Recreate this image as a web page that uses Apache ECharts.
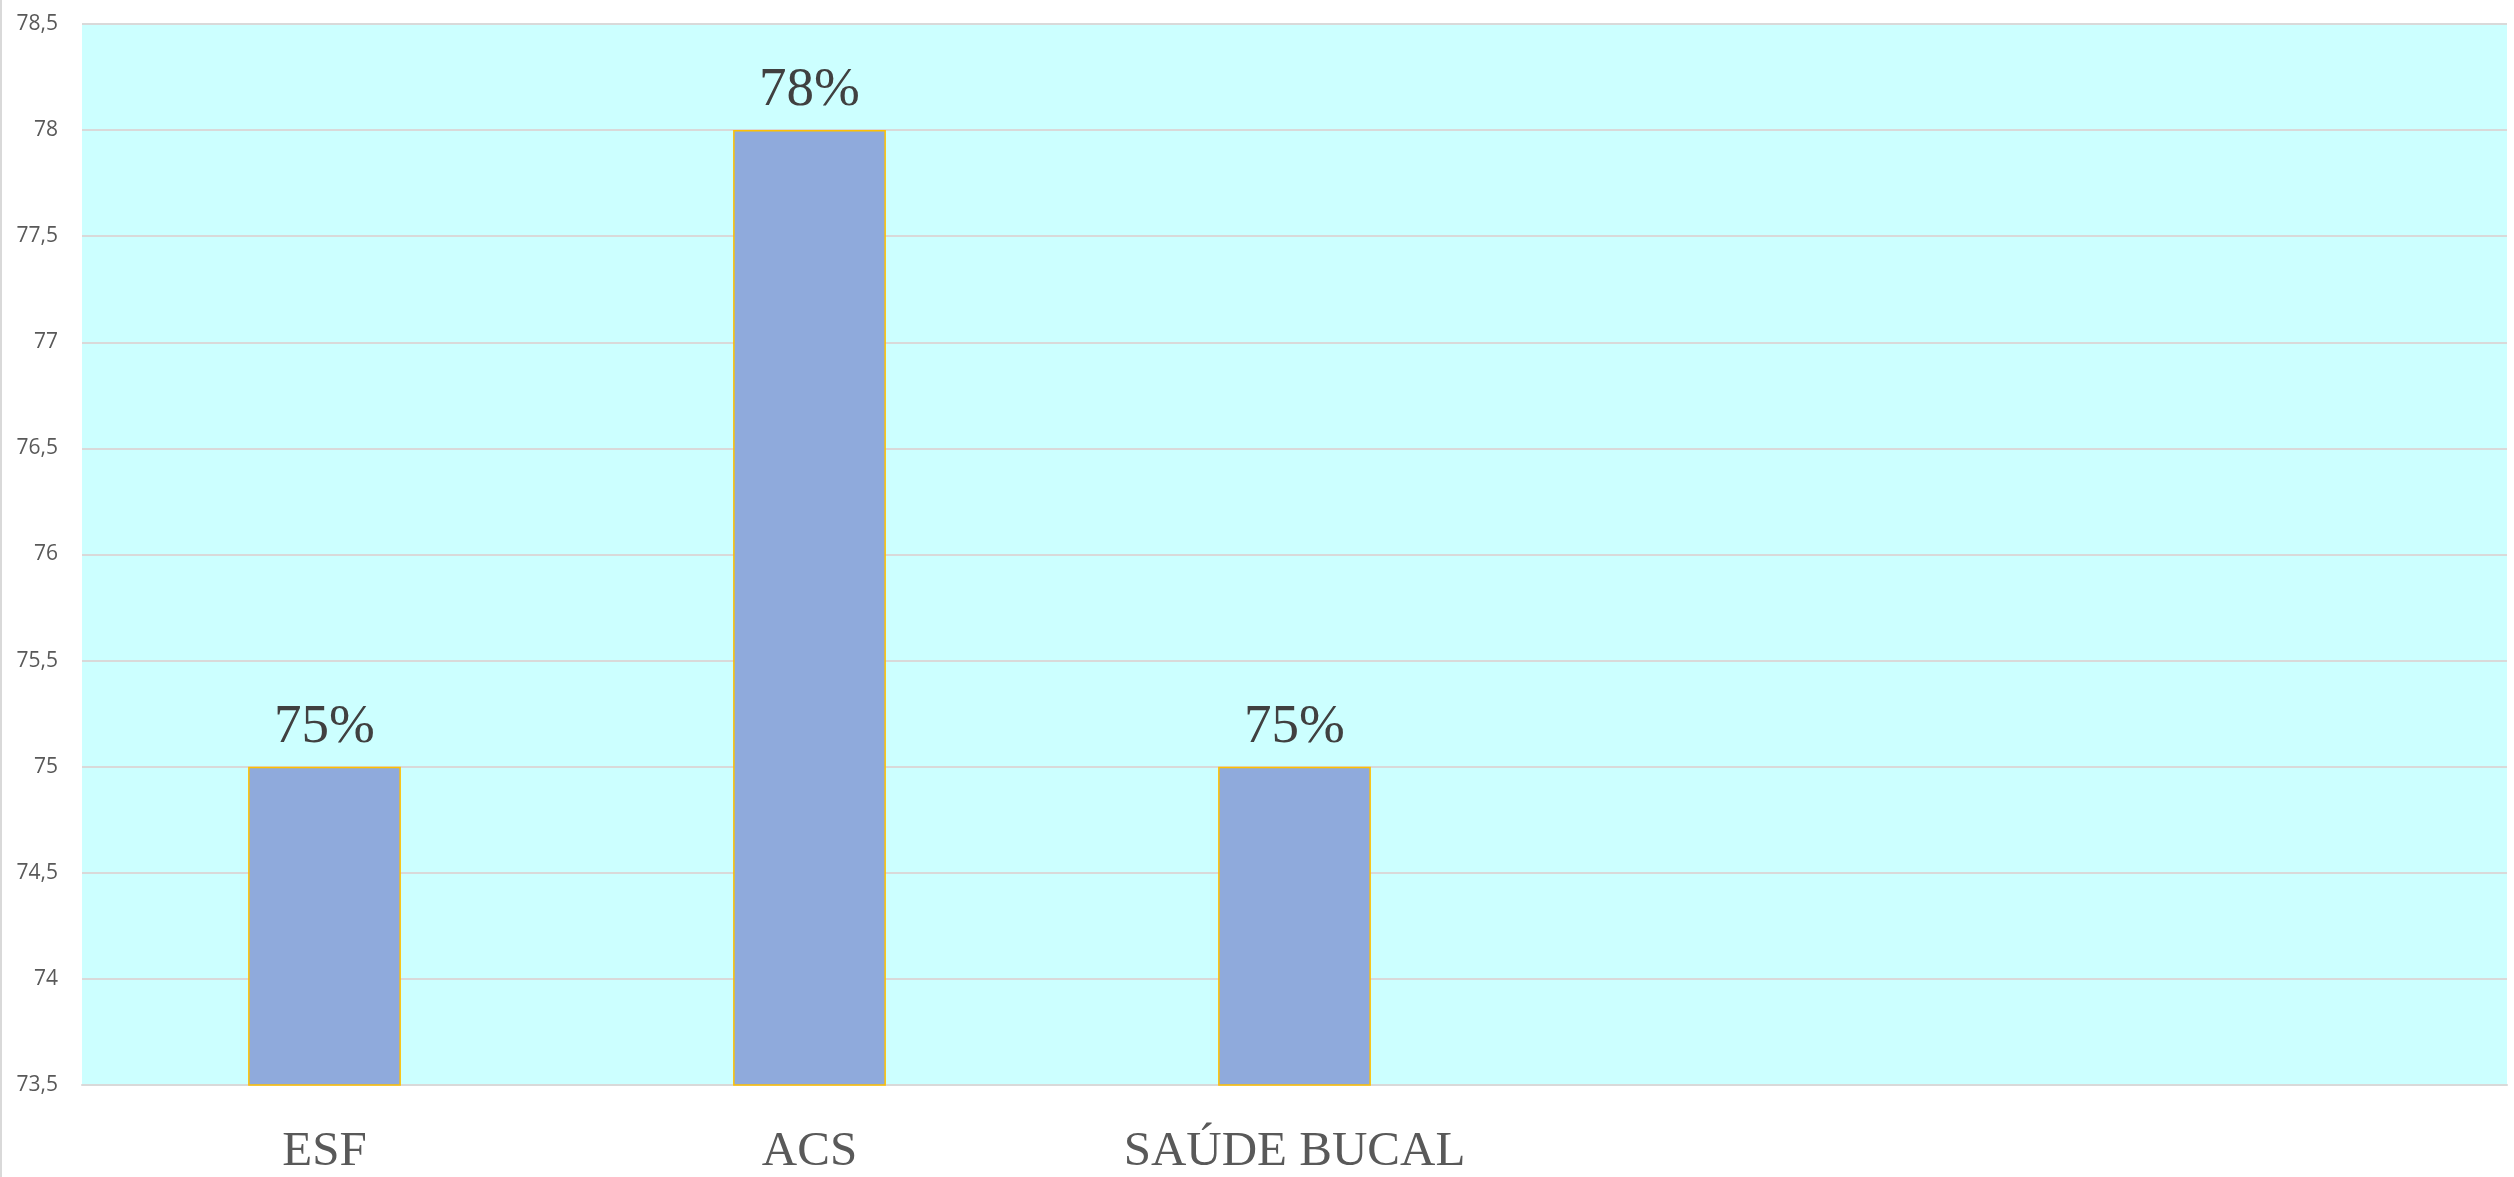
<!DOCTYPE html>
<html>
<head>
<meta charset="utf-8">
<script src="https://cdn.jsdelivr.net/npm/echarts@6/dist/echarts.min.js"></script>
<style>
html,body{margin:0;padding:0;background:#fff;}
#chart{width:2514px;height:1177px;}
</style>
</head>
<body>
<div id="chart"></div>
<script>
const categories = ['ESF', 'ACS', 'SAÚDE BUCAL', '', ''];
const values = [75, 78, 75, null, null];
const yMin = 73.5;
const yMax = 78.5;
const yInterval = 0.5;

const chart = echarts.init(document.getElementById('chart'));
chart.setOption({
  animation: false,
  backgroundColor: '#ffffff',
  graphic: [{
    type: 'line',
    shape: {x1: 1, y1: 0, x2: 1, y2: 1177},
    style: {stroke: '#D9D9D9', lineWidth: 2}
  }],
  grid: {
    left: 82, right: 7, top: 24, bottom: 92,
    show: true, backgroundColor: '#CCFFFF', borderWidth: 0
  },
  xAxis: {
    type: 'category',
    data: categories,
    axisLine: {show: true, lineStyle: {color: '#D9D9D9', width: 2}},
    axisTick: {show: false},
    axisLabel: {
      interval: 0, margin: 43,
      fontFamily: '"Liberation Serif", serif', fontSize: 49, color: '#595959'
    }
  },
  yAxis: {
    type: 'value',
    min: yMin, max: yMax, interval: yInterval,
    axisLine: {show: false},
    axisTick: {show: false},
    splitLine: {show: true, lineStyle: {color: '#D9D9D9', width: 2}},
    axisLabel: {
      margin: 24,
      fontFamily: '"Open Sans", sans-serif', fontSize: 21, color: '#595959',
      formatter: v => String(v).replace('.', ',')
    }
  },
  series: [{
    type: 'bar',
    data: values,
    barWidth: '31.5%',
    itemStyle: {color: '#8FAADC', borderColor: '#FFC000', borderWidth: 1.5},
    label: {
      show: true, position: 'top', distance: 12,
      fontFamily: '"Liberation Serif", serif', fontSize: 55, color: '#404040',
      formatter: p => p.value + '%'
    }
  }]
});
</script>
</body>
</html>
